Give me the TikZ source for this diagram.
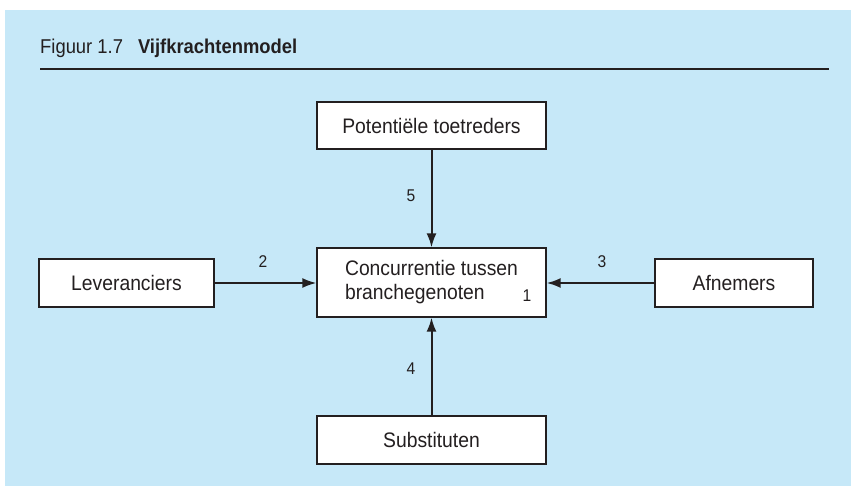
\documentclass[tikz,border=0pt]{standalone}
\usepackage{fontspec}
\setmainfont{Liberation Sans}[FakeStretch=0.92]
\usetikzlibrary{arrows.meta}
\definecolor{bgblue}{HTML}{C6E8F8}
\definecolor{ink}{HTML}{231F20}
\begin{document}
\begin{tikzpicture}[x=1pt,y=-1pt,
  box/.style={draw=ink,line width=1.3pt,fill=white,inner sep=0pt,font=\fontsize{21}{24}\selectfont,text=ink,align=center},
  arr/.style={draw=ink,line width=2pt,-{Latex[length=14pt,width=10pt]}},
  num/.style={font=\fontsize{17}{20}\selectfont,text=ink,inner sep=0pt}]
\useasboundingbox (0,0) rectangle (851,486);
\fill[bgblue] (5,10) rectangle (851,486);
\node[anchor=base west,text=ink,inner sep=0pt] (title) at (40,54) {\fontsize{20}{24}\selectfont Figuur 1.7\hspace{0.75em}\textbf{Vijfkrachtenmodel}};
\draw[ink,line width=2.5pt] (40,69) -- (829,69);
\node[box,minimum width=229pt,minimum height=47pt] (pot) at (431.5,125.5) {Potentiële toetreders};
\node[box,align=left,minimum width=229pt,minimum height=69pt] (conc) at (431.5,282.5) {Concurrentie tussen\\branchegenoten};
\node[box,minimum width=175pt,minimum height=48pt] (lev) at (126.5,283) {Leveranciers};
\node[box,minimum width=158pt,minimum height=48pt] (afn) at (734,283) {Afnemers};
\node[box,minimum width=229pt,minimum height=48pt] (sub) at (431.5,440) {Substituten};
\draw[arr] (pot.south) -- (conc.north);
\draw[arr] (lev.east) -- (lev.east -| conc.west);
\draw[arr] (afn.west) -- (afn.west -| conc.east);
\draw[arr] (sub.north) -- (conc.south);
\node[num] (n5) at (411,196) {5};
\node[num] (n2) at (263,262) {2};
\node[num] (n3) at (602,262) {3};
\node[num] (n4) at (411,369) {4};
\node[num] (n1) at (527,296) {1};
\end{tikzpicture}
\end{document}
